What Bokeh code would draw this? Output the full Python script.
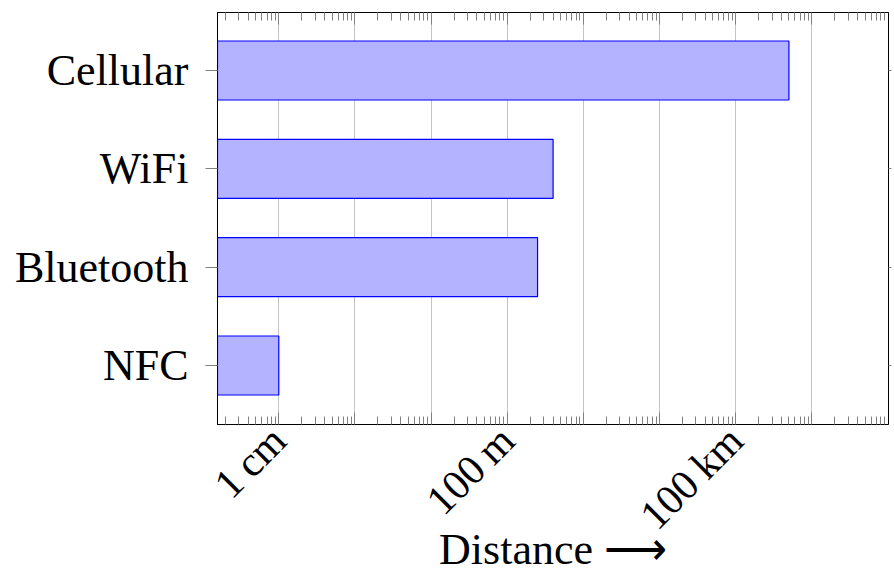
import math
from bokeh.plotting import figure
from bokeh.models import (Range1d, FixedTicker, LinearAxis, LogAxis, ColumnDataSource,
                          CustomJSTickFormatter)
from bokeh.embed import file_html
from bokeh.resources import INLINE

# ---- data ----
categories = ["NFC", "Bluetooth", "WiFi", "Cellular"]
distances = [0.01, 25, 40, 50000]          # bar ends (log scale)
tick_values = [1e-2, 1e1, 1e4]
tick_labels = ["1\u2009cm", "100\u2009m", "100\u2009km"]
x_title = "Distance \u27f6"
decades = list(range(-3, 7))

FONT = "Liberation Serif"
FS = "44px"

x_lo, x_hi = 1.567e-3, 1.015e6

p = figure(width=894, height=578, x_axis_type="log",
           x_range=Range1d(x_lo, x_hi), y_range=Range1d(-0.6, 3.59),
           output_backend="svg", toolbar_location=None,
           min_border_left=217, min_border_right=0, min_border_top=12,
           min_border_bottom=154)

ypos = list(range(len(categories)))
src = ColumnDataSource(dict(y=ypos, right=distances,
                            left=[x_lo] * len(categories)))
p.hbar(y="y", left="left", right="right", height=0.6, source=src,
       fill_color="#b3b3ff", line_color="#0000ff", line_width=1.2)

major = [10.0 ** k for k in decades]
minor = [m * 10.0 ** k for k in decades for m in range(2, 10)]
xticker = FixedTicker(ticks=major, minor_ticks=minor)

# bottom x axis
xa = p.xaxis[0]
xa.ticker = xticker
xa.formatter = CustomJSTickFormatter(
    args=dict(vals=tick_values, labs=tick_labels),
    code="""
    for (let i = 0; i < vals.length; i++) {
        if (Math.abs(Math.log10(tick) - Math.log10(vals[i])) < 1e-6) return labs[i];
    }
    return " ";
    """)
xa.major_label_orientation = math.pi / 4
xa.major_label_text_font = FONT
xa.major_label_text_font_size = "42px"
xa.major_label_text_color = "black"
xa.major_tick_in = 12
xa.major_tick_out = 0
xa.minor_tick_in = 8
xa.minor_tick_out = 0
xa.major_tick_line_color = "#808080"
xa.minor_tick_line_color = "#808080"
xa.axis_line_color = "black"
xa.major_label_standoff = 9
xa.axis_label = x_title
xa.axis_label_text_font = FONT
xa.axis_label_text_font_size = FS
xa.axis_label_text_font_style = "normal"
xa.axis_label_text_color = "black"
xa.axis_label_standoff = -32

blank = CustomJSTickFormatter(code="return ' ';")

# top x axis (ticks only)
top = LogAxis(ticker=xticker, formatter=blank, major_label_text_font_size="1px",
              major_tick_in=12, major_tick_out=0, minor_tick_in=8,
              minor_tick_out=0, major_label_standoff=0,
              major_tick_line_color="#808080", minor_tick_line_color="#808080",
              axis_line_color="black")
p.add_layout(top, "above")

# left y axis
ya = p.yaxis[0]
ya.ticker = FixedTicker(ticks=ypos, minor_ticks=[])
ya.major_label_overrides = {i: c for i, c in zip(ypos, categories)}
ya.major_label_text_font = FONT
ya.major_label_text_font_size = FS
ya.major_label_text_color = "black"
ya.major_tick_out = 12
ya.major_tick_in = 0
ya.minor_tick_line_color = None
ya.major_tick_line_color = "#808080"
ya.major_label_standoff = 17
ya.axis_line_color = "black"

right = LinearAxis(ticker=FixedTicker(ticks=ypos, minor_ticks=[]),
                   formatter=blank,
                   major_label_text_font_size="1px", major_tick_out=3,
                   major_tick_in=0, major_label_standoff=0,
                   major_tick_line_color="#808080", axis_line_color="black")
p.add_layout(right, "right")

p.xgrid.ticker = FixedTicker(ticks=major)
p.xgrid.grid_line_color = "#c4c4c4"
p.xgrid.grid_line_width = 1
p.ygrid.grid_line_color = None
p.outline_line_color = "black"
p.background_fill_color = "white"
p.border_fill_color = "white"

open("out.html", "w").write(file_html(p, INLINE))
